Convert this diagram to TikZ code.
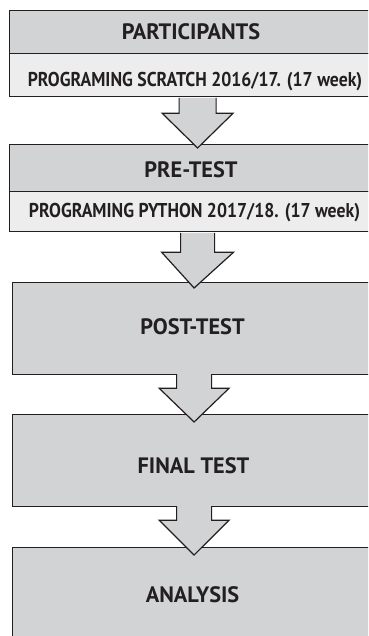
\documentclass[tikz,border=0pt]{standalone}
\usepackage{graphicx}
\usepackage{fontspec}
\setmainfont{PT Sans}
\usetikzlibrary{calc}
\definecolor{boxgray}{RGB}{209,211,212}
\definecolor{bandgray}{RGB}{237,237,238}
\definecolor{ink}{RGB}{35,31,32}
% block arrow: #1 from node, #2 to node, #3 shaft half width, #4 head half width,
% #5 shaft length, #6 tip depth below target top, #7 start offset of the shaft
\newcommand\blockarrow[7]{%
  \draw[flow] ($(#1.south)+(-#3,#7)$) -- ($(#1.south)+(-#3,#5)$)
    -- ($(#1.south)+(-#4,#5)$) -- ($(#2.north)+(0,#6)$)
    -- ($(#1.south)+(#4,#5)$) -- ($(#1.south)+(#3,#5)$)
    -- ($(#1.south)+(#3,#7)$);}
% narrowed text for the course lines
\newcommand\narrow[1]{\scalebox{0.885}[1]{#1}}
\begin{document}
\begin{tikzpicture}[x=1pt,y=-1pt,
  box/.style={draw=ink, line width=1.2pt, fill=boxgray, inner sep=0pt,
    anchor=north west},
  band/.style={box, fill=bandgray},
  flow/.style={draw=ink, line width=1.2pt, fill=boxgray, line join=miter},
  title/.style={font=\bfseries\fontsize{22.3}{26}\selectfont, text=ink,
    anchor=base, inner sep=0pt},
  subtitle/.style={font=\bfseries\fontsize{20}{24}\selectfont, text=ink,
    anchor=base, inner sep=0pt}]
\useasboundingbox (0,0) rectangle (368,636);
\clip (0,0) rectangle (368,636);
% stage boxes
\node[box,  minimum width=376pt, minimum height=43pt] (part) at (9,10) {};
\node[band, minimum width=376pt, minimum height=43pt] (sub1) at (9,53) {};
\node[box,  minimum width=376pt, minimum height=47pt] (pre)  at (9,144) {};
\node[band, minimum width=376pt, minimum height=40pt] (sub2) at (9,191) {};
\node[box,  minimum width=363pt, minimum height=92pt] (post) at (12,282) {};
\node[box,  minimum width=363pt, minimum height=92pt] (fin)  at (12,414) {};
\node[box,  minimum width=363pt, minimum height=120pt] (ana) at (12,547) {};
% arrows between stages
\blockarrow{sub1}{pre}{18.5}{35.5}{16}{4}{0.6}
\blockarrow{sub2}{post}{17}{36}{20}{6}{0.6}
\blockarrow{post}{fin}{17.5}{35}{13}{8}{-1}
\blockarrow{fin}{ana}{17.5}{35}{13}{8}{-1}
% labels
\node[title]    (t1) at (191,40)    {PARTICIPANTS};
\node[subtitle] (s1) at (195,87)    {\narrow{PROGRAMING SCRATCH 2016/17. (17 week)}};
\node[title]    (t2) at (191,178)   {PRE-TEST};
\node[subtitle] (s2) at (194.5,217) {\narrow{PROGRAMING PYTHON 2017/18. (17 week)}};
\node[title]    (t3) at (192.5,334) {POST-TEST};
\node[title]    (t4) at (193.5,473) {FINAL TEST};
\node[title]    (t5) at (192.5,602) {ANALYSIS};
\end{tikzpicture}
\end{document}
